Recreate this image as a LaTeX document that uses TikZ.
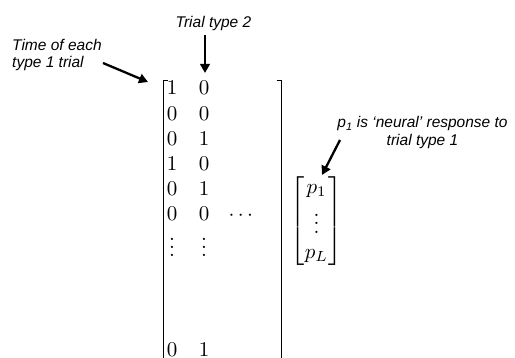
\documentclass[tikz,border=0pt]{standalone}
\usepackage{amsmath}
\usepackage{fontspec}
\usepackage{graphicx}
\usetikzlibrary{arrows.meta}
\newfontfamily\annot{Liberation Sans}
% math entries: the 10pt design, enlarged
\newcommand{\mtx}[1]{\scalebox{2.1}{$#1$}}

\begin{document}
\begin{tikzpicture}[x=1pt,y=-1pt,
  note/.style={inner sep=0pt, font=\annot\itshape\fontsize{15.5}{17.5}\selectfont},
  entry/.style={inner sep=0pt, anchor=base},
  brack/.style={line width=0.9pt},
  pointer/.style={line width=2.3pt, -{Triangle[length=9pt,width=9.5pt]}}]
\fill[white] (0,0) rectangle (515,358);
\useasboundingbox (0,0) rectangle (515,358);
\clip (0,0) rectangle (515,358);

% design matrix: brackets run past the bottom edge
\draw[brack] (167.5,80) -- (163.5,80) -- (163.5,370);
\draw[brack] (276.5,80) -- (281,80) -- (281,370);

% first column
\node[entry] (a1) at (172,95)    {\mtx{1}};
\node[entry] (a2) at (172,120.2) {\mtx{0}};
\node[entry] (a3) at (172,145.4) {\mtx{0}};
\node[entry] (a4) at (172,170.6) {\mtx{1}};
\node[entry] (a5) at (172,195.8) {\mtx{0}};
\node[entry] (a6) at (172,221)   {\mtx{0}};
\node[entry] (a7) at (172,257)   {\mtx{\vdots}};
\node[entry] (a8) at (172,356.5) {\mtx{0}};
% second column
\node[entry] (b1) at (204,95)    {\mtx{0}};
\node[entry] (b2) at (204,120.2) {\mtx{0}};
\node[entry] (b3) at (204,145.4) {\mtx{1}};
\node[entry] (b4) at (204,170.6) {\mtx{0}};
\node[entry] (b5) at (204,195.8) {\mtx{1}};
\node[entry] (b6) at (204,221)   {\mtx{0}};
\node[entry] (b7) at (204,257)   {\mtx{\vdots}};
\node[entry] (b8) at (204,356.5) {\mtx{1}};
% further columns
\node[entry] (c6) at (242.5,221) {\mtx{\cdots}};

% response vector
\node[inner sep=0pt] (pvec) at (316.5,221)
  {\mtx{\begin{bmatrix}p_1\\ \vdots\\ p_L\end{bmatrix}}};

% annotations
\node[note, anchor=north] (t2) at (213.5,16) {Trial type 2};
\node[note, anchor=north west, align=left] (t1) at (12,39)
  {Time of each\\type 1 trial};
\node[note, anchor=north, align=center] (tp) at (422.5,116.5)
  {p\textsubscript{1} is ‘neural’ response to\\trial type 1};

% pointers
\coordinate (t2tail) at (205,35);
\coordinate (t2head) at (205,73);
\coordinate (t1tail) at (103,63);
\coordinate (t1head) at (148,82);
\coordinate (tptail) at (340,140);
\coordinate (tphead) at (322,175);
\draw[pointer] (t2tail) -- (t2head);
\draw[pointer] (t1tail) -- (t1head);
\draw[pointer] (tptail) -- (tphead);
\end{tikzpicture}
\end{document}
